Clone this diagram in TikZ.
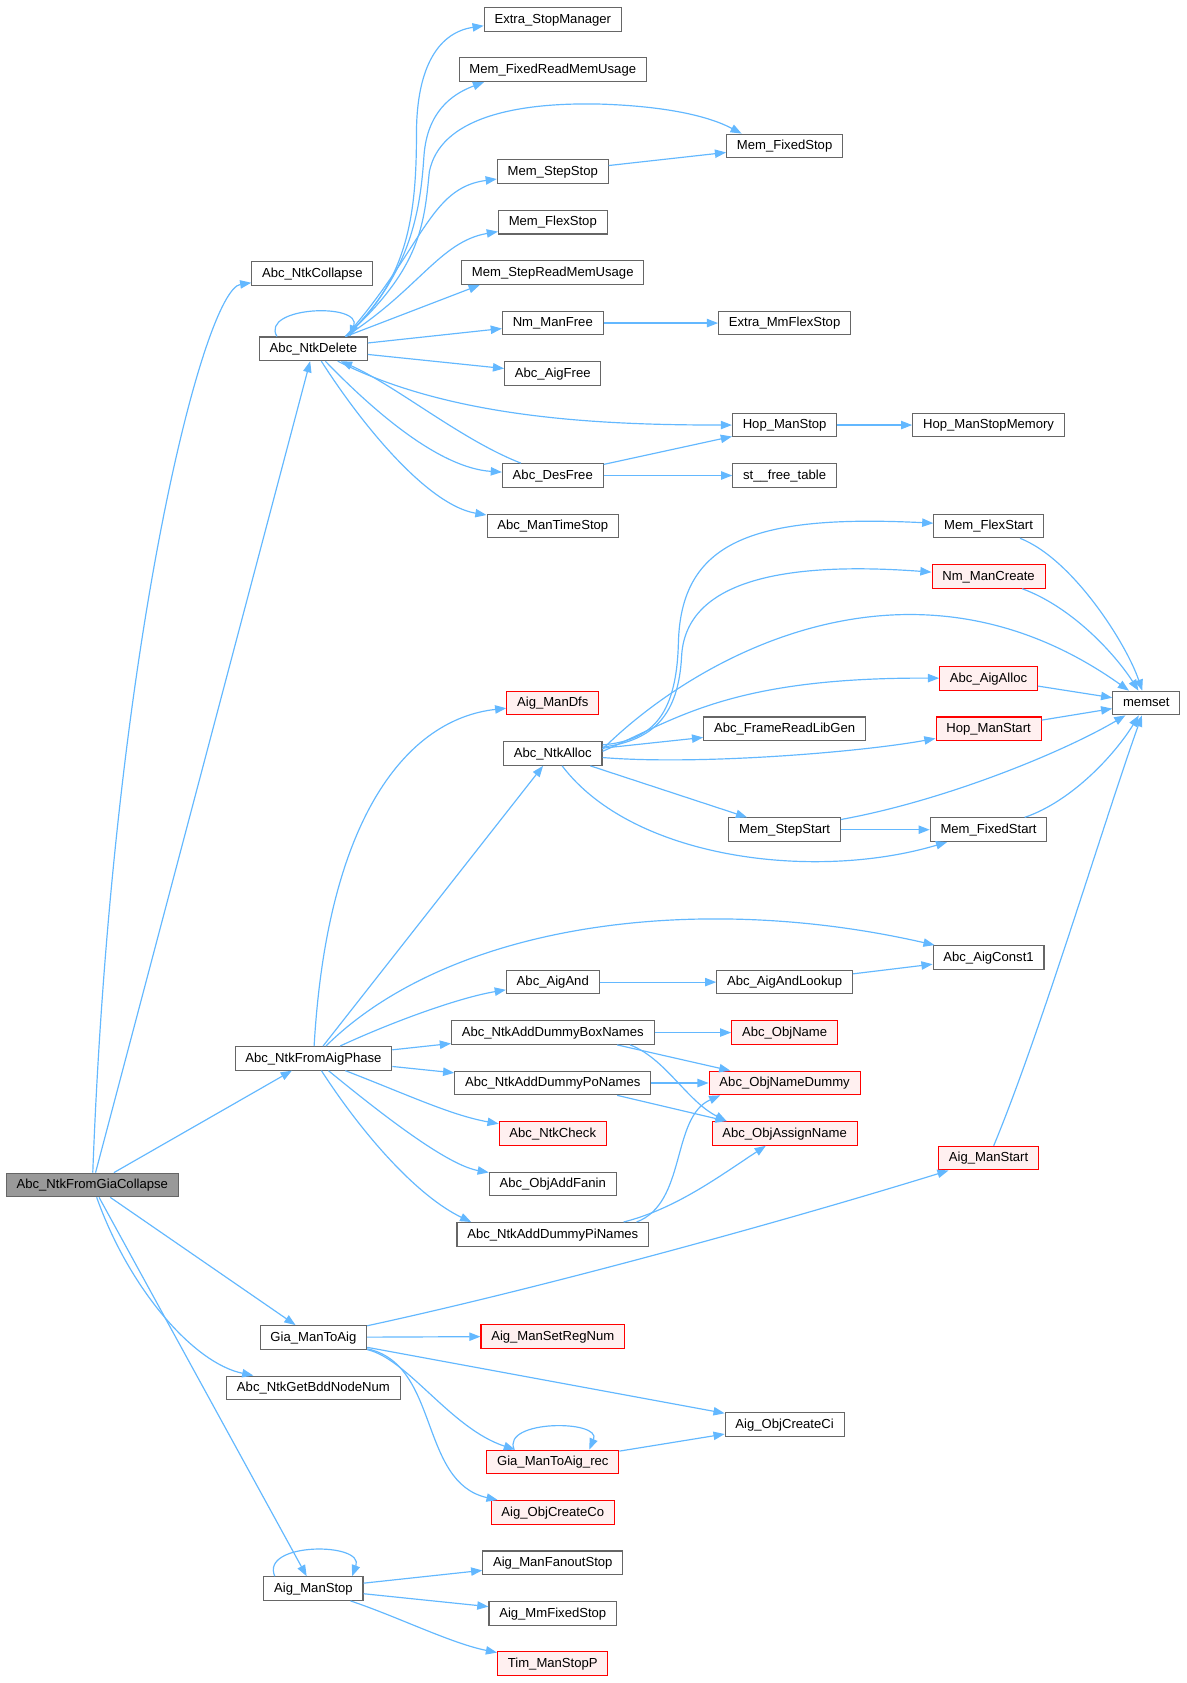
\documentclass[tikz,border=0pt]{standalone}
\usepackage{fontspec}
\setmainfont{Liberation Sans}
\usetikzlibrary{arrows.meta}
\definecolor{edgeblue}{HTML}{63B8FF}
\definecolor{boxgray}{HTML}{666666}
\definecolor{rootgray}{HTML}{999999}
\definecolor{redfill}{HTML}{FFF0F0}
\begin{document}
\begin{tikzpicture}[x=0.5pt,y=-0.5pt,
    fn/.style={draw=boxgray, fill=white, line width=0.5pt, inner xsep=4.8pt, inner ysep=0pt,
      minimum height=11pt, text height=4.7pt, text depth=1.2pt, font=\fontsize{6.1pt}{7pt}\selectfont},
    fnred/.style={fn, draw=red, fill=redfill},
    fnroot/.style={fn, fill=rootgray},
    call/.style={draw=edgeblue, line width=0.55pt, -{Triangle[length=5.2pt,width=3.9pt]}}]
        \useasboundingbox (0,0) rectangle (1105,1568);
        % column 1
        \node[fnroot] (root) at (86,1104) {Abc\_NtkFromGiaCollapse};
        \node[fn] (coll) at (291,255) {Abc\_NtkCollapse};
        \node[fn] (del) at (292,325) {Abc\_NtkDelete};
        \node[fn] (phase) at (292,986) {Abc\_NtkFromAigPhase};
        \node[fn] (toaig) at (292,1246) {Gia\_ManToAig};
        \node[fn] (bdd) at (292,1293) {Abc\_NtkGetBddNodeNum};
        \node[fn] (mstop) at (292,1480) {Aig\_ManStop};
        % column 2
        \node[fn] (xstop) at (515,18) {Extra\_StopManager};
        \node[fn] (fxuse) at (515,65) {Mem\_FixedReadMemUsage};
        \node[fn] (ststop) at (515,160) {Mem\_StepStop};
        \node[fn] (flstop) at (515,207) {Mem\_FlexStop};
        \node[fn] (stuse) at (515,254) {Mem\_StepReadMemUsage};
        \node[fn] (nmfree) at (515,301) {Nm\_ManFree};
        \node[fn] (aigfree) at (515,348) {Abc\_AigFree};
        \node[fn] (desfree) at (515,443) {Abc\_DesFree};
        \node[fn] (timestop) at (515,490) {Abc\_ManTimeStop};
        \node[fnred] (dfs) at (515,655) {Aig\_ManDfs};
        \node[fn] (alloc) at (515,702) {Abc\_NtkAlloc};
        \node[fn] (and) at (515,915) {Abc\_AigAnd};
        \node[fn] (boxnm) at (515,962) {Abc\_NtkAddDummyBoxNames};
        \node[fn] (ponm) at (515,1009) {Abc\_NtkAddDummyPoNames};
        \node[fnred] (check) at (515,1056) {Abc\_NtkCheck};
        \node[fn] (fanin) at (515,1103) {Abc\_ObjAddFanin};
        \node[fn] (pinm) at (515,1150) {Abc\_NtkAddDummyPiNames};
        \node[fnred] (regnum) at (515,1245) {Aig\_ManSetRegNum};
        \node[fnred] (rec) at (515,1362) {Gia\_ManToAig\_rec};
        \node[fnred] (cco) at (515,1409) {Aig\_ObjCreateCo};
        \node[fn] (fanout) at (515,1456) {Aig\_ManFanoutStop};
        \node[fn] (mmfix) at (515,1503) {Aig\_MmFixedStop};
        \node[fnred] (tim) at (515,1550) {Tim\_ManStopP};
        % column 3
        \node[fn] (fxstop) at (731,136) {Mem\_FixedStop};
        \node[fn] (mmflex) at (731,301) {Extra\_MmFlexStop};
        \node[fn] (hopstop) at (731,396) {Hop\_ManStop};
        \node[fn] (sttab) at (731,443) {st\_\_free\_table};
        \node[fn] (libgen) at (731,679) {Abc\_FrameReadLibGen};
        \node[fn] (ststart) at (731,773) {Mem\_StepStart};
        \node[fn] (lookup) at (731,915) {Abc\_AigAndLookup};
        \node[fnred] (objname) at (731,962) {Abc\_ObjName};
        \node[fnred] (namedum) at (731,1009) {Abc\_ObjNameDummy};
        \node[fnred] (assign) at (731,1056) {Abc\_ObjAssignName};
        \node[fn] (cci) at (731,1327) {Aig\_ObjCreateCi};
        % column 4
        \node[fn] (hopmem) at (921,396) {Hop\_ManStopMemory};
        \node[fn] (flstart) at (921,490) {Mem\_FlexStart};
        \node[fnred] (nmcreate) at (921,537) {Nm\_ManCreate};
        \node[fnred] (aigalloc) at (921,632) {Abc\_AigAlloc};
        \node[fnred] (hopstart) at (921,679) {Hop\_ManStart};
        \node[fn] (fxstart) at (921,773) {Mem\_FixedStart};
        \node[fn] (const) at (921,892) {Abc\_AigConst1};
        \node[fnred] (mstart) at (921,1079) {Aig\_ManStart};
        \node[fn] (memset) at (1068,655) {memset};

        % calls of the root
        \path[call] (root) .. controls (105,600) and (190,270) .. (coll);
        \path[call] (root) -- (del);
        \path[call] (root) -- (phase);
        \path[call] (root) -- (toaig);
        \path[call] (root) .. controls (120,1200) and (180,1270) .. (bdd);
        \path[call] (root) -- (mstop);

        % Abc_NtkDelete
        \path[call] ([xshift=-17pt]del.north) .. controls +(-8pt,14pt) and +(6pt,16pt) .. ([xshift=17pt]del.north);
        \path[call] ([xshift=15pt]del.north) .. controls (380,262) and (388,200) .. (388,125)
            .. controls (388,60) and (410,30) .. ([yshift=-3pt]xstop.west);
        \path[call] ([xshift=15pt]del.north) .. controls (385,255) and (392,190) .. (395,145)
            .. controls (398,105) and (420,88) .. ([xshift=-32pt]fxuse.south);
        \path[call] ([xshift=15pt]del.north) .. controls (392,250) and (395,210) .. (400,160)
            .. controls (410,110) and (480,95) .. (560,97) .. controls (620,99) and (660,108) .. ([xshift=-20pt]fxstop.north);
        \path[call] ([xshift=15pt]del.north) .. controls (395,230) and (400,175) .. (ststop);
        \path[call] ([xshift=15pt]del.north) .. controls (390,270) and (410,225) .. (flstop);
        \path[call] ([xshift=15pt]del.north) -- ([xshift=-34pt]stuse.south);
        \path[call] (del) -- (nmfree);
        \path[call] (del) -- (aigfree);
        \path[call] (del) .. controls (420,390) and (560,396) .. (hopstop);
        \path[call] (del) .. controls (350,385) and (410,436) .. (desfree);
        \path[call] (desfree) .. controls (430,410) and (370,360) .. (del);
        \path[call] (del) .. controls (340,400) and (400,471) .. (timestop);
        \path[call] (ststop) -- (fxstop);
        \path[call] (nmfree) -- (mmflex);
        \path[call] (hopstop) -- (hopmem);
        \path[call] (desfree) -- (hopstop);
        \path[call] (desfree) -- (sttab);

        % Abc_NtkFromAigPhase
        \path[call] (phase) .. controls (305,760) and (380,670) .. (dfs);
        \path[call] (phase) -- (alloc);
        \path[call] (phase) .. controls (420,860) and (650,830) .. (const);
        \path[call] (phase) .. controls (370,950) and (430,929) .. (and);
        \path[call] (phase) -- (boxnm);
        \path[call] (phase) -- (ponm);
        \path[call] (phase) .. controls (380,1020) and (420,1039) .. (check);
        \path[call] (phase) .. controls (370,1050) and (420,1086) .. (fanin);
        \path[call] (phase) .. controls (340,1060) and (390,1115) .. ([xshift=-38pt]pinm.north);

        % Abc_NtkAlloc
        \path[call] ([yshift=4pt]alloc.east) .. controls (605,690) and (630,670) .. (632,600)
            .. controls (634,505) and (700,479) .. (flstart);
        \path[call] ([yshift=3pt]alloc.east) .. controls (610,690) and (632,665) .. (635,612)
            .. controls (638,545) and (720,522) .. (nmcreate);
        \path[call] ([yshift=2pt]alloc.east) .. controls (650,610) and (850,500) .. (memset);
        \path[call] ([yshift=1pt]alloc.east) .. controls (630,670) and (680,631) .. (aigalloc);
        \path[call] (alloc) -- (libgen);
        \path[call] (alloc) .. controls (650,713) and (800,701) .. (hopstart);
        \path[call] (alloc) -- (ststart);
        \path[call] (alloc) .. controls (590,801) and (760,821) .. (fxstart);
        \path[call] (flstart) .. controls (1000,521) and (1050,601) .. (memset);
        \path[call] (nmcreate) .. controls (1000,566) and (1040,611) .. (memset);
        \path[call] (aigalloc) -- (memset);
        \path[call] (hopstart) -- (memset);
        \path[call] (ststart) .. controls (880,746) and (990,701) .. (memset);
        \path[call] (ststart) -- (fxstart);
        \path[call] (fxstart) .. controls (1000,746) and (1040,701) .. (memset);
        \path[call] (mstart) .. controls (970,961) and (1030,761) .. (memset);

        % names and AND nodes
        \path[call] (and) -- (lookup);
        \path[call] (lookup) -- (const);
        \path[call] (boxnm) -- (objname);
        \path[call] ([xshift=30pt]boxnm.south) -- (namedum);
        \path[call] ([xshift=36pt]boxnm.south) .. controls (620,986) and (640,1026) .. ([xshift=-27pt]assign.north);
        \path[call] (ponm) -- (namedum);
        \path[call] ([xshift=30pt]ponm.south) -- ([xshift=-27pt]assign.north);
        \path[call] ([xshift=39pt]pinm.north) .. controls (640,1121) and (625,1041) .. ([xshift=-30pt]namedum.south);
        \path[call] ([xshift=33pt]pinm.north) .. controls (630,1126) and (670,1096) .. (assign);

        % Gia_ManToAig
        \path[call] (toaig) .. controls (500,1201) and (720,1141) .. (mstart);
        \path[call] (toaig) -- (regnum);
        \path[call] (toaig) -- (cci);
        \path[call] (toaig) .. controls (380,1266) and (420,1331) .. (rec);
        \path[call] (toaig) .. controls (410,1271) and (390,1381) .. (cco);
        \path[call] ([xshift=-18pt]rec.north) .. controls +(-6pt,14pt) and +(6pt,14pt) .. ([xshift=17pt]rec.north);
        \path[call] (rec) -- (cci);

        % Aig_ManStop
        \path[call] ([xshift=-18pt]mstop.north) .. controls +(-7pt,16pt) and +(6pt,16pt) .. ([xshift=18pt]mstop.north);
        \path[call] (mstop) -- (fanout);
        \path[call] (mstop) -- (mmfix);
        \path[call] (mstop) .. controls (370,1506) and (420,1531) .. (tim);
    \end{tikzpicture}
\end{document}
